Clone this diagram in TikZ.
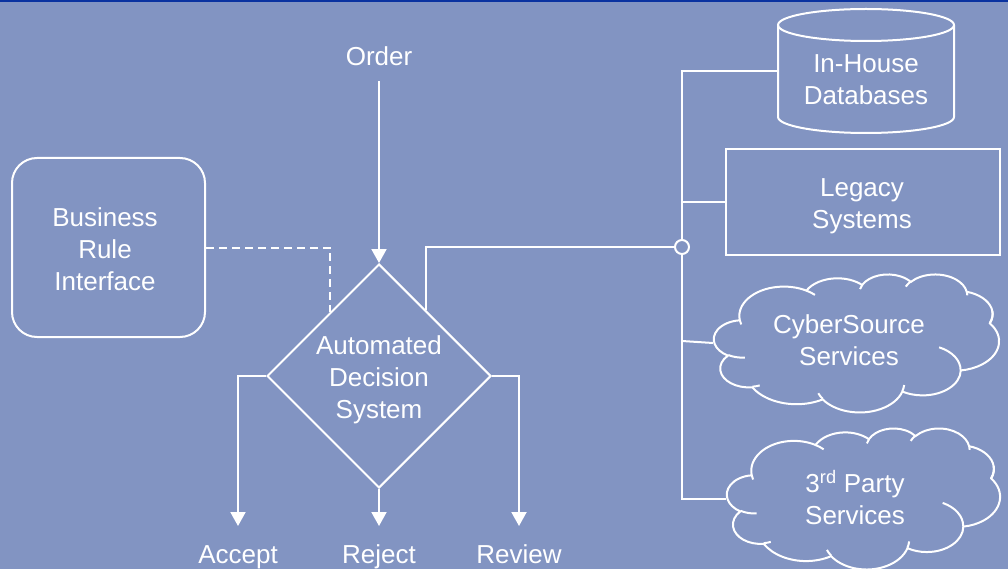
\documentclass[tikz,border=0pt]{standalone}
\usepackage{fontspec}
\setmainfont{Liberation Sans}
\usetikzlibrary{shapes.geometric,arrows.meta,calc}
\definecolor{bgblue}{RGB}{130,148,194}
\definecolor{rimblue}{RGB}{10,50,160}

% Cloud outline in a 4320 x 4320 design grid: the puff arcs
% (x radius / y radius / start angle / sweep, angles in degrees)
\def\cloudpuffs{675.3/919.0/-190.4875/123.7805, 533.3/726.7/-144.1024/89.9452,
  436.5/594.5/-145.8079/99.7230, 485.7/659.5/-130.9861/117.2417,
  533.3/727.3/-78.7089/109.0269, 677.5/922.0/-46.2673/130.2690,
  578.5/786.7/0.6250/114.0333, 675.2/921.5/22.4516/115.1726,
  772.0/1054.3/66.2426/75.7110, 436.0/591.8/-274.9421/146.7356,
  434.5/594.5/-246.8285/152.5189}
% the short inner creases (start point / radii / start angle / sweep)
\def\cloudcreases{469.3/2617.7/434.5/594.5/86.7420/26.4295,
  692.8/3489.9/436.0/591.8/73.6105/11.4475,
  1647.8/3909.0/675.2/921.5/137.6242/14.0811,
  2882.7/3475.1/675.2/921.5/6.4533/15.9984,
  3412.9/2295.4/578.5/786.7/-70.2924/70.9174,
  4179.8/1535.4/533.3/727.3/30.3180/-39.9888,
  3832.4/542.6/485.7/659.5/-13.7443/14.8589,
  2907.8/395.2/485.7/659.5/-149.1815/18.1954,
  2214.1/472.0/436.5/594.5/-163.4943/17.6864,
  1400.0/519.2/675.3/919.0/-66.7070/12.3194,
  412.7/1578.9/675.3/919.0/157.6544/11.8582}

% \cloudshape{left}{top}{width}{height}
\newcommand\cloudshape[4]{%
  \pgfmathsetmacro\cloudsx{#3/4320}%
  \pgfmathsetmacro\cloudsy{#4/4320}%
  \begin{scope}[shift={(#1,#2)}, x=\cloudsx pt, y=-\cloudsy pt]
    \draw[fill=bgblue] (390,1437)
      \foreach \rx/\ry/\st/\sw [evaluate=\st as \ta using {atan2(\rx*sin(\st),\ry*cos(\st))},
          evaluate=\st as \tb using {atan2(\rx*sin(\st+\sw),\ry*cos(\st+\sw))},
          evaluate=\st as \dd using {\tb-\ta+360*round((\sw-\tb+\ta)/360)}] in \cloudpuffs
        { arc[start angle=\ta, delta angle=\dd, x radius=\rx, y radius=\ry] }
      -- cycle;
    \draw
      \foreach \mx/\my/\rx/\ry/\st/\sw [evaluate=\st as \ta using {atan2(\rx*sin(\st),\ry*cos(\st))},
          evaluate=\st as \tb using {atan2(\rx*sin(\st+\sw),\ry*cos(\st+\sw))},
          evaluate=\st as \dd using {\tb-\ta+360*round((\sw-\tb+\ta)/360)}] in \cloudcreases
        { (\mx,\my) arc[start angle=\ta, delta angle=\dd, x radius=\rx, y radius=\ry] };
  \end{scope}}

\begin{document}
\begin{tikzpicture}[x=1pt,y=-1pt,
  line width=2pt, draw=white, text=white,
  every node/.style={font=\fontsize{26}{32}\selectfont, align=center,
    text height=19pt, text depth=0pt},
  twolines/.style={text height=51pt},
  threelines/.style={text height=83pt},
  box/.style={draw=white, inner sep=0pt},
  lbl/.style={inner sep=0pt},
  area/.style={inner sep=0pt},
  arr/.style={-{Triangle[width=15pt,length=14pt]}},
  dsh/.style={dash pattern=on 8pt off 5pt}]

% background and top rule
\fill[bgblue] (0,0) rectangle (1008,569);
\fill[rimblue] (0,0) rectangle (1008,2);
\useasboundingbox (0,0) rectangle (1008,569);

% decision system and inputs
\node[box, shape=diamond, minimum width=224pt, minimum height=224pt, aspect=1]
  (ads) at (379,376) {};
\node[lbl, threelines] (adsT) at (379,377) {Automated\\Decision\\System};
\node[lbl, anchor=base] (ord) at (379,66) {Order};
\node[box, rounded corners=25pt, minimum width=193pt, minimum height=179pt]
  (bri) at (108.5,247.5) {};
\node[lbl, threelines] (briT) at (105,248.5) {Business\\Rule\\Interface};

% outcomes
\node[lbl, anchor=base] (acc) at (238,563) {Accept};
\node[lbl, anchor=base] (rej) at (379,563) {Reject};
\node[lbl, anchor=base] (rev) at (519,563) {Review};

% data sources
\node[area, minimum width=176pt, minimum height=125pt] (db) at (866,71) {};
\draw (778,25) -- (778,117)
  arc[start angle=180, end angle=0, x radius=88, y radius=16] -- (954,25);
\draw (866,25) ellipse[x radius=88, y radius=16];
\node[lbl, twolines] (dbT) at (866,79) {In-House\\Databases};

\node[box, minimum width=274pt, minimum height=106pt] (leg) at (863,202) {};
\node[lbl, twolines] (legT) at (862,203) {Legacy\\Systems};

\node[area, minimum width=285pt, minimum height=138pt] (cs) at (856.5,343) {};
\cloudshape{714}{274}{285}{138}
\node[lbl, twolines] (csT) at (849,339.5) {CyberSource\\Services};

\node[area, minimum width=273pt, minimum height=141pt] (tp) at (863.5,498.5) {};
\cloudshape{727}{428}{273}{141}
\node[lbl, twolines] (tpT) at (855,499) {3\textsuperscript{rd} Party\\Services};

% junction on the bus
\node[circle, draw=white, fill=bgblue, minimum size=14pt, inner sep=0pt,
  text height={}, text depth={}] (j) at (682,247) {};

% connectors
\coordinate (inL) at ($(ads.west)!0.57!(ads.north)$);
\coordinate (outR) at ($(ads.north)!0.42!(ads.east)$);
\draw[arr, shorten <=14pt] (ord.south) -- (ads.north);
\draw[dsh] (bri.east) -| (inL);
\draw (outR) |- (j);
\draw[arr, shorten >=17pt] (ads.west) -| (acc.north);
\draw[arr, shorten >=17pt] (ads.south) -- (rej.north);
\draw[arr, shorten >=17pt] (ads.east) -| (rev.north);

% bus to the data sources
\draw (db.west) -| (j.north);
\draw (j.south) |- (tp.west);
\draw (682,202) -- (leg.west);
\draw (682,341) -- (cs.west);
\end{tikzpicture}
\end{document}
